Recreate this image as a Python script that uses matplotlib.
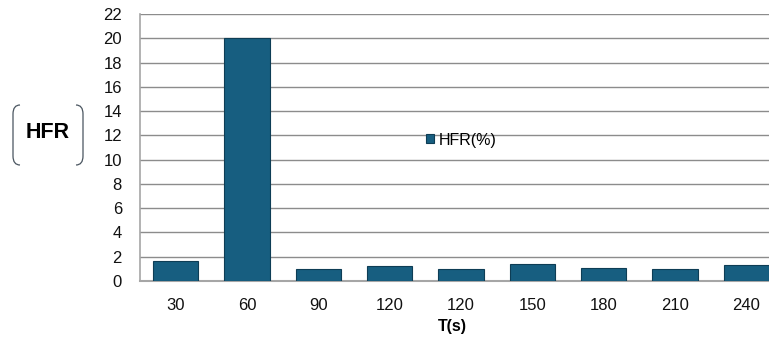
import matplotlib.pyplot as plt
from matplotlib.path import Path
from matplotlib.patches import PathPatch

plt.rcParams['font.family'] = ['Liberation Sans', 'DejaVu Sans']

# HFR measured at each time step
temps = ['30', '60', '90', '120', '120', '150', '180', '210', '240']
hfr = [1.62, 20.0, 0.95, 1.25, 0.95, 1.41, 1.03, 0.97, 1.30]
yticks = list(range(0, 23, 2))

bar_col = '#175e80'
grid_col = '#8c8c8c'

fig = plt.figure(figsize=(7.69, 3.42), dpi=100)
ax = fig.add_axes([140 / 769, 1 - 281 / 342, 1 - 140 / 769, 267 / 342])

x = range(len(temps))
ax.bar(x, hfr, width=0.64, color=bar_col, edgecolor='#0e3d55', linewidth=0.8,
       label='HFR(%)', zorder=3)

ax.set_xlim(-0.5, len(temps) - 0.5 - 13 / 71.3)
ax.set_ylim(0, 22)
ax.set_yticks(yticks)
ax.set_xticks(list(x))
ax.set_xticklabels(temps)
ax.tick_params(axis='both', length=0, labelsize=12, colors='#111111')
ax.tick_params(axis='x', pad=12)
ax.tick_params(axis='y', pad=13)
ax.grid(axis='y', color=grid_col, linewidth=1.0, zorder=0)

for s in ['top', 'right']:
    ax.spines[s].set_visible(False)
ax.spines['left'].set_color('#a6a6a6')
ax.spines['bottom'].set_color('#a6a6a6')
ax.spines['left'].set_linewidth(1.2)
ax.spines['bottom'].set_linewidth(1.5)

ax.set_xlabel('T(s)', fontsize=11.5, fontweight='bold')
ax.xaxis.set_label_coords((452 - 140) / 629, -(319 - 281) / 267)

leg = ax.legend(loc='center left', bbox_to_anchor=((426 - 140) / 629, (281 - 140) / 267),
                frameon=False, fontsize=11.5, handlelength=0.5, handleheight=0.5,
                handletextpad=0.3, borderaxespad=0, borderpad=0)

# bracketed y label on the left
fig.text(48 / 769, 1 - 132 / 342, 'HFR', fontsize=15.5, fontweight='bold',
         ha='center', va='center')


def bracket(x_edge, x_tip, top, bot):
    W, H = 769, 342
    pts = [(x_tip, top), (x_edge, top), (x_edge, top + 9),
           (x_edge, bot - 9), (x_edge, bot), (x_tip, bot)]
    verts = [(px / W, 1 - py / H) for px, py in pts]
    codes = [Path.MOVETO, Path.CURVE3, Path.CURVE3,
             Path.LINETO, Path.CURVE3, Path.CURVE3]
    fig.patches.append(PathPatch(Path(verts, codes), transform=fig.transFigure,
                                 fill=False, edgecolor='#4a5560', linewidth=0.9))


bracket(13, 20, 105, 165)
bracket(83, 76, 105, 165)

fig.savefig('out.png', dpi=100)
